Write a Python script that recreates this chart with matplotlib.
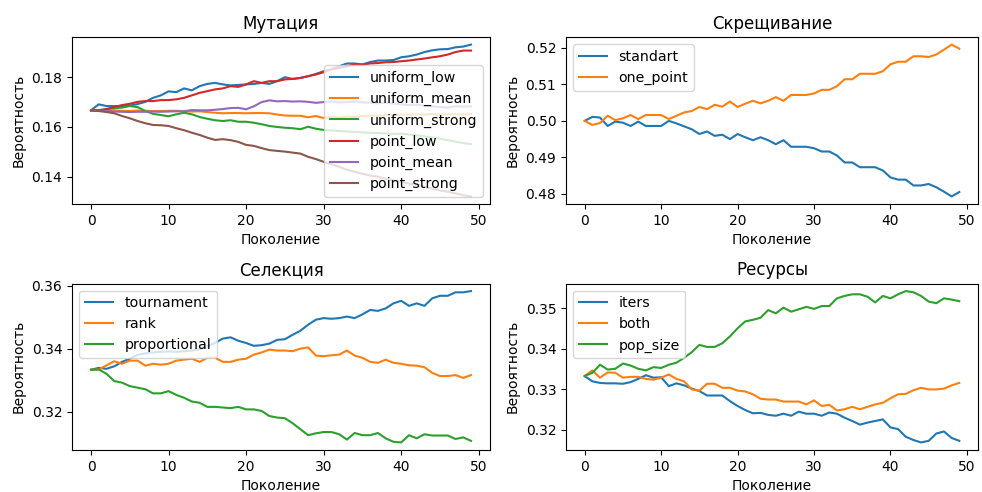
import matplotlib
matplotlib.use("Agg")
import matplotlib.pyplot as plt
from matplotlib.ticker import MultipleLocator

generations = list(range(50))

# Мутация
uniform_low = [0.1667, 0.1691, 0.1684, 0.1684, 0.1684, 0.1686, 0.1692, 0.1701, 0.1717, 0.1727,
               0.1743, 0.1740, 0.1755, 0.1747, 0.1764, 0.1773, 0.1777, 0.1771, 0.1767, 0.1769,
               0.1771, 0.1773, 0.1777, 0.1773, 0.1784, 0.1800, 0.1793, 0.1797, 0.1804, 0.1813,
               0.1824, 0.1833, 0.1844, 0.1855, 0.1855, 0.1851, 0.1861, 0.1867, 0.1867, 0.1869,
               0.1880, 0.1884, 0.1891, 0.1901, 0.1908, 0.1912, 0.1913, 0.1920, 0.1923, 0.1931]
uniform_mean = [0.1667, 0.1667, 0.1666, 0.1666, 0.1665, 0.1664, 0.1666, 0.1665, 0.1664, 0.1664,
                0.1665, 0.1665, 0.1663, 0.1662, 0.1663, 0.1660, 0.1657, 0.1655, 0.1656, 0.1656,
                0.1655, 0.1656, 0.1656, 0.1655, 0.1650, 0.1646, 0.1645, 0.1645, 0.1639, 0.1644,
                0.1636, 0.1640, 0.1638, 0.1642, 0.1640, 0.1644, 0.1646, 0.1645, 0.1648, 0.1647,
                0.1650, 0.1649, 0.1651, 0.1650, 0.1652, 0.1650, 0.1651, 0.1651, 0.1650, 0.1651]
uniform_strong = [0.1667, 0.1668, 0.1672, 0.1675, 0.1678, 0.1684, 0.1680, 0.1664, 0.1653, 0.1648,
                  0.1643, 0.1651, 0.1657, 0.1651, 0.1640, 0.1633, 0.1627, 0.1624, 0.1627, 0.1621,
                  0.1621, 0.1617, 0.1611, 0.1604, 0.1600, 0.1597, 0.1595, 0.1591, 0.1601, 0.1593,
                  0.1588, 0.1586, 0.1584, 0.1582, 0.1580, 0.1578, 0.1577, 0.1576, 0.1574, 0.1572,
                  0.1573, 0.1570, 0.1566, 0.1562, 0.1558, 0.1553, 0.1547, 0.1541, 0.1535, 0.1531]
point_low = [0.1667, 0.1665, 0.1672, 0.1680, 0.1688, 0.1693, 0.1701, 0.1704, 0.1704, 0.1708,
             0.1708, 0.1711, 0.1717, 0.1727, 0.1737, 0.1744, 0.1751, 0.1755, 0.1764, 0.1761,
             0.1771, 0.1784, 0.1777, 0.1784, 0.1784, 0.1791, 0.1793, 0.1797, 0.1804, 0.1811,
             0.1820, 0.1831, 0.1837, 0.1844, 0.1851, 0.1851, 0.1855, 0.1857, 0.1860, 0.1861,
             0.1864, 0.1867, 0.1871, 0.1875, 0.1880, 0.1884, 0.1891, 0.1901, 0.1907, 0.1907]
point_mean = [0.1667, 0.1665, 0.1664, 0.1662, 0.1661, 0.1660, 0.1661, 0.1661, 0.1662, 0.1661,
              0.1662, 0.1663, 0.1663, 0.1668, 0.1667, 0.1667, 0.1669, 0.1672, 0.1676, 0.1677,
              0.1671, 0.1683, 0.1700, 0.1707, 0.1703, 0.1704, 0.1702, 0.1703, 0.1701, 0.1697,
              0.1700, 0.1703, 0.1698, 0.1700, 0.1702, 0.1699, 0.1697, 0.1695, 0.1698, 0.1694,
              0.1691, 0.1688, 0.1690, 0.1686, 0.1683, 0.1680, 0.1678, 0.1683, 0.1682, 0.1683]
point_strong = [0.1667, 0.1664, 0.1660, 0.1655, 0.1644, 0.1635, 0.1624, 0.1615, 0.1608, 0.1607,
                0.1604, 0.1595, 0.1587, 0.1577, 0.1568, 0.1557, 0.1548, 0.1551, 0.1547, 0.1540,
                0.1528, 0.1524, 0.1515, 0.1507, 0.1504, 0.1501, 0.1497, 0.1493, 0.1480, 0.1471,
                0.1460, 0.1450, 0.1440, 0.1428, 0.1420, 0.1412, 0.1405, 0.1400, 0.1392, 0.1385,
                0.1380, 0.1372, 0.1368, 0.1360, 0.1352, 0.1345, 0.1340, 0.1333, 0.1326, 0.1321]

# Скрещивание
standart = [0.5000, 0.5011, 0.5009, 0.4986, 0.4998, 0.4995, 0.4986, 0.4998, 0.4986, 0.4986,
            0.4986, 0.5000, 0.4993, 0.4985, 0.4977, 0.4964, 0.4971, 0.4959, 0.4962, 0.4950,
            0.4964, 0.4955, 0.4947, 0.4955, 0.4947, 0.4936, 0.4947, 0.4929, 0.4929, 0.4929,
            0.4925, 0.4916, 0.4916, 0.4905, 0.4886, 0.4886, 0.4873, 0.4873, 0.4873, 0.4864,
            0.4845, 0.4839, 0.4839, 0.4823, 0.4823, 0.4827, 0.4818, 0.4806, 0.4793, 0.4805]
one_point = [0.5000, 0.4989, 0.4994, 0.5014, 0.5002, 0.5007, 0.5016, 0.5005, 0.5016, 0.5016,
             0.5016, 0.5005, 0.5014, 0.5023, 0.5027, 0.5038, 0.5032, 0.5044, 0.5039, 0.5053,
             0.5038, 0.5047, 0.5055, 0.5048, 0.5055, 0.5065, 0.5055, 0.5071, 0.5071, 0.5071,
             0.5075, 0.5085, 0.5085, 0.5095, 0.5114, 0.5114, 0.5129, 0.5129, 0.5129, 0.5136,
             0.5155, 0.5162, 0.5162, 0.5177, 0.5177, 0.5175, 0.5182, 0.5195, 0.5209, 0.5198]

# Селекция
tournament = [0.3333, 0.3339, 0.3336, 0.3344, 0.3358, 0.3368, 0.3380, 0.3385, 0.3388, 0.3390,
              0.3391, 0.3390, 0.3392, 0.3394, 0.3398, 0.3408, 0.3418, 0.3432, 0.3436, 0.3425,
              0.3418, 0.3409, 0.3411, 0.3416, 0.3428, 0.3430, 0.3444, 0.3457, 0.3476, 0.3492,
              0.3497, 0.3495, 0.3497, 0.3502, 0.3497, 0.3509, 0.3523, 0.3520, 0.3528, 0.3544,
              0.3552, 0.3536, 0.3544, 0.3536, 0.3560, 0.3568, 0.3568, 0.3579, 0.3579, 0.3583]
rank = [0.3333, 0.3334, 0.3347, 0.3360, 0.3352, 0.3362, 0.3362, 0.3346, 0.3352, 0.3349,
        0.3352, 0.3362, 0.3365, 0.3368, 0.3358, 0.3371, 0.3371, 0.3358, 0.3358, 0.3365,
        0.3368, 0.3381, 0.3388, 0.3397, 0.3394, 0.3394, 0.3392, 0.3400, 0.3404, 0.3378,
        0.3376, 0.3379, 0.3381, 0.3394, 0.3378, 0.3371, 0.3358, 0.3355, 0.3365, 0.3355,
        0.3352, 0.3347, 0.3346, 0.3341, 0.3323, 0.3313, 0.3313, 0.3316, 0.3307, 0.3316]
proportional = [0.3333, 0.3334, 0.3320, 0.3297, 0.3292, 0.3281, 0.3276, 0.3271, 0.3258, 0.3258,
                0.3265, 0.3253, 0.3244, 0.3232, 0.3228, 0.3215, 0.3215, 0.3213, 0.3211, 0.3215,
                0.3207, 0.3207, 0.3202, 0.3186, 0.3181, 0.3179, 0.3163, 0.3144, 0.3125, 0.3131,
                0.3135, 0.3135, 0.3128, 0.3111, 0.3132, 0.3125, 0.3125, 0.3132, 0.3115, 0.3104,
                0.3102, 0.3125, 0.3115, 0.3128, 0.3124, 0.3124, 0.3124, 0.3113, 0.3118, 0.3107]

# Ресурсы
iters = [0.3333, 0.3320, 0.3316, 0.3315, 0.3315, 0.3314, 0.3318, 0.3326, 0.3335, 0.3329,
         0.3330, 0.3308, 0.3315, 0.3310, 0.3302, 0.3296, 0.3285, 0.3285, 0.3285, 0.3271,
         0.3259, 0.3249, 0.3241, 0.3242, 0.3237, 0.3235, 0.3240, 0.3235, 0.3245, 0.3240,
         0.3240, 0.3235, 0.3243, 0.3240, 0.3230, 0.3222, 0.3213, 0.3218, 0.3222, 0.3226,
         0.3206, 0.3202, 0.3183, 0.3175, 0.3169, 0.3173, 0.3191, 0.3196, 0.3180, 0.3173]
both = [0.3333, 0.3347, 0.3329, 0.3342, 0.3341, 0.3329, 0.3331, 0.3331, 0.3326, 0.3324,
        0.3329, 0.3337, 0.3326, 0.3320, 0.3300, 0.3297, 0.3314, 0.3314, 0.3304, 0.3304,
        0.3297, 0.3295, 0.3288, 0.3277, 0.3275, 0.3275, 0.3270, 0.3270, 0.3270, 0.3263,
        0.3273, 0.3259, 0.3262, 0.3248, 0.3251, 0.3257, 0.3251, 0.3257, 0.3263, 0.3267,
        0.3278, 0.3288, 0.3289, 0.3298, 0.3304, 0.3300, 0.3300, 0.3302, 0.3310, 0.3316]
pop_size = [0.3333, 0.3341, 0.3361, 0.3349, 0.3351, 0.3364, 0.3359, 0.3351, 0.3347, 0.3355,
            0.3353, 0.3361, 0.3366, 0.3378, 0.3392, 0.3410, 0.3405, 0.3405, 0.3414, 0.3431,
            0.3451, 0.3468, 0.3472, 0.3477, 0.3496, 0.3488, 0.3502, 0.3492, 0.3498, 0.3504,
            0.3499, 0.3506, 0.3506, 0.3525, 0.3531, 0.3535, 0.3535, 0.3529, 0.3515, 0.3531,
            0.3525, 0.3535, 0.3543, 0.3540, 0.3531, 0.3517, 0.3513, 0.3525, 0.3522, 0.3518]

y_steps = [0.02, 0.01, 0.02, 0.01]

panels = [
    ("Мутация", [("uniform_low", uniform_low), ("uniform_mean", uniform_mean),
                 ("uniform_strong", uniform_strong), ("point_low", point_low),
                 ("point_mean", point_mean), ("point_strong", point_strong)], "lower right"),
    ("Скрещивание", [("standart", standart), ("one_point", one_point)], "upper left"),
    ("Селекция", [("tournament", tournament), ("rank", rank),
                  ("proportional", proportional)], "upper left"),
    ("Ресурсы", [("iters", iters), ("both", both), ("pop_size", pop_size)], "upper left"),
]

W, H = 982, 492
fig = plt.figure(figsize=(W / 100, H / 100), dpi=100)
rects = [
    [72 / W, 1 - 204 / H, (490 - 72) / W, (204 - 37) / H],
    [566 / W, 1 - 204 / H, (978 - 566) / W, (204 - 37) / H],
    [72 / W, 1 - 450 / H, (490 - 72) / W, (450 - 283.5) / H],
    [566 / W, 1 - 450 / H, (978 - 566) / W, (450 - 283.5) / H],
]

for rect, (title, series, loc), step in zip(rects, panels, y_steps):
    ax = fig.add_axes(rect)
    for name, vals in series:
        ax.plot(generations, vals, label=name)
    ax.set_title(title)
    ax.set_xlabel("Поколение")
    ax.set_ylabel("Вероятность")
    ax.set_xticks([0, 10, 20, 30, 40, 50])
    ax.yaxis.set_major_locator(MultipleLocator(step))
    ax.legend(loc=loc, fontsize=10.2)

fig.savefig("out.png", dpi=100)
